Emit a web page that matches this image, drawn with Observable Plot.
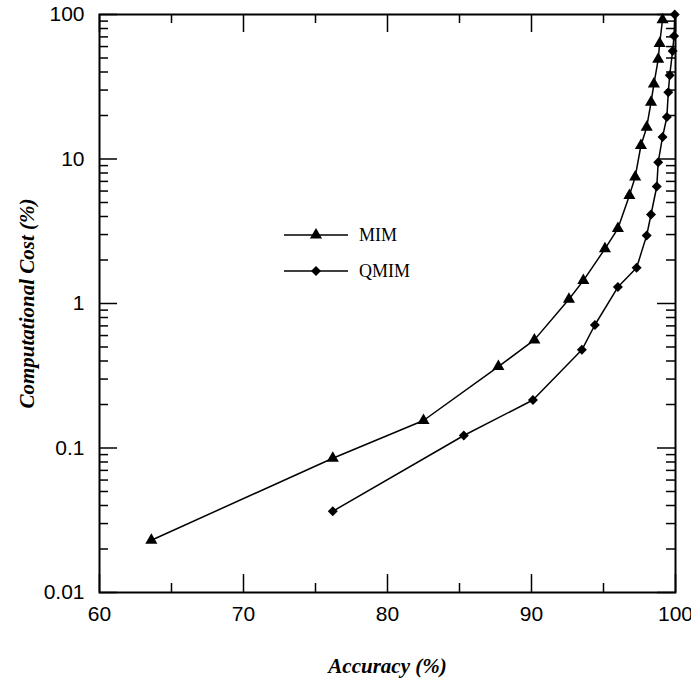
<!DOCTYPE html>
<html>
<head>
<meta charset="utf-8">
<script src="https://cdn.jsdelivr.net/npm/d3@7"></script>
<script src="https://cdn.jsdelivr.net/npm/@observablehq/plot@0.6"></script>
<style>
  html, body { margin: 0; padding: 0; background: #fff; }
  g[aria-label="x-axis label"] text, g[aria-label="y-axis label"] text {
    font-family: "Liberation Serif", "Times New Roman", serif; font-style: italic; font-weight: bold;
  }
</style>
</head>
<body>
<div id="wrap"></div>
<script>
// ---- data ----
const mimAccuracy = [63.6, 76.2, 82.5, 87.7, 90.2, 92.6, 93.6, 95.1, 96.0, 96.8, 97.2, 97.6, 98.0, 98.3, 98.5, 98.8, 98.9, 99.1];
const mimCost     = [0.023, 0.085, 0.155, 0.366, 0.56, 1.07, 1.44, 2.39, 3.3, 5.6, 7.5, 12.4, 16.6, 24.7, 33, 49, 63, 92];
const qmimAccuracy = [76.2, 85.3, 90.1, 93.5, 94.4, 96.0, 97.3, 98.0, 98.3, 98.7, 98.8, 99.1, 99.4, 99.5, 99.6, 99.8, 99.9, 99.95];
const qmimCost     = [0.0365, 0.122, 0.215, 0.478, 0.71, 1.30, 1.77, 2.96, 4.13, 6.45, 9.5, 14.2, 19.5, 29, 38, 56, 71, 100];
const seriesNames = ["MIM", "QMIM"];
const xMajorTicks = [60, 70, 80, 90, 100];
const xMinorTicks = [65, 75, 85, 95];
const yMajorTicks = [0.01, 0.1, 1, 10, 100];
const yMinorTicks = [2,3,4,5,6,7,8,9].flatMap(m => [0.01, 0.1, 1, 10].map(d => +(m * d).toPrecision(3)));
const xLabel = "Accuracy (%)";
const yLabel = "Computational Cost (%)";

const mim = mimAccuracy.map((x, i) => ({series: "MIM", x, y: mimCost[i]}));
const qmim = qmimAccuracy.map((x, i) => ({series: "QMIM", x, y: qmimCost[i]}));

// layout
const W = 691, H = 682, ML = 99, MR = 16, MT = 14, MB = 90;
const PW = W - ML - MR, PH = H - MT - MB;
const MAJ = 18, MIN = 9, SW = 1.5;
const tickFont = {fontFamily: "Liberation Sans, Arial, sans-serif", fontSize: 21};
const tickStyle = {stroke: "#000", strokeWidth: SW};

const chart = Plot.plot({
  width: W, height: H,
  marginLeft: ML, marginRight: MR, marginTop: MT, marginBottom: MB,
  style: {background: "#fff", color: "#000"},
  x: {domain: [60, 100]},
  y: {type: "log", domain: [0.01, 100]},
  marks: [
    // data
    Plot.line(mim, {x: "x", y: "y", stroke: "#000", strokeWidth: 1.5}),
    Plot.line(qmim, {x: "x", y: "y", stroke: "#000", strokeWidth: 1.5}),
    Plot.dot(mim, {x: "x", y: "y", symbol: "triangle", r: 4.5, fill: "#000", stroke: "none"}),
    Plot.dot(qmim, {x: "x", y: "y", symbol: "diamond2", r: 4.5, fill: "#000", stroke: "none"}),
    // tick labels + titles
    Plot.axisX(xMajorTicks, {anchor: "bottom", tickSize: 0, tickPadding: 14, ...tickFont, tickFormat: d => String(d),
      label: xLabel, labelAnchor: "center", labelArrow: "none", labelOffset: 80}),
    Plot.axisY(yMajorTicks, {anchor: "left", tickSize: 0, tickPadding: 15, ...tickFont, tickFormat: d => String(d),
      label: yLabel, labelAnchor: "center", labelArrow: "none", labelOffset: 80}),
    // frame and inward ticks on all four sides (rules shortened by insets)
    Plot.frame({stroke: "#000", strokeWidth: 2}),
    Plot.ruleX(xMajorTicks, {x: d => d, insetTop: PH - MAJ, ...tickStyle}),
    Plot.ruleX(xMinorTicks, {x: d => d, insetTop: PH - MIN, ...tickStyle}),
    Plot.ruleX(xMajorTicks, {x: d => d, insetBottom: PH - MAJ, ...tickStyle}),
    Plot.ruleX(xMinorTicks, {x: d => d, insetBottom: PH - MIN, ...tickStyle}),
    Plot.ruleY(yMajorTicks, {y: d => d, insetRight: PW - MAJ, ...tickStyle}),
    Plot.ruleY(yMinorTicks, {y: d => d, insetRight: PW - MIN, ...tickStyle}),
    Plot.ruleY(yMajorTicks, {y: d => d, insetLeft: PW - MAJ, ...tickStyle}),
    Plot.ruleY(yMinorTicks, {y: d => d, insetLeft: PW - MIN, ...tickStyle})
  ]
});
document.getElementById("wrap").appendChild(chart);

// ---- legend, drawn inside the same SVG ----
const lg = d3.select(chart).append("g").attr("aria-label", "legend")
  .attr("font-family", "Liberation Serif, Times New Roman, serif").attr("font-size", 18)
  .attr("text-anchor", "start");
seriesNames.forEach((name, i) => {
  const g = lg.append("g").attr("transform", `translate(284,${235 + i * 36})`);
  g.append("line").attr("x1", 0).attr("x2", 64).attr("stroke", "#000").attr("stroke-width", 1.5);
  g.append("path").attr("transform", "translate(32,0)")
    .attr("d", d3.symbol(i === 0 ? d3.symbolTriangle : d3.symbolDiamond2, 64)())
    .attr("fill", "#000");
  g.append("text").attr("x", 75).attr("dy", "0.35em").attr("fill", "#000").text(name);
});
</script>
</body>
</html>
